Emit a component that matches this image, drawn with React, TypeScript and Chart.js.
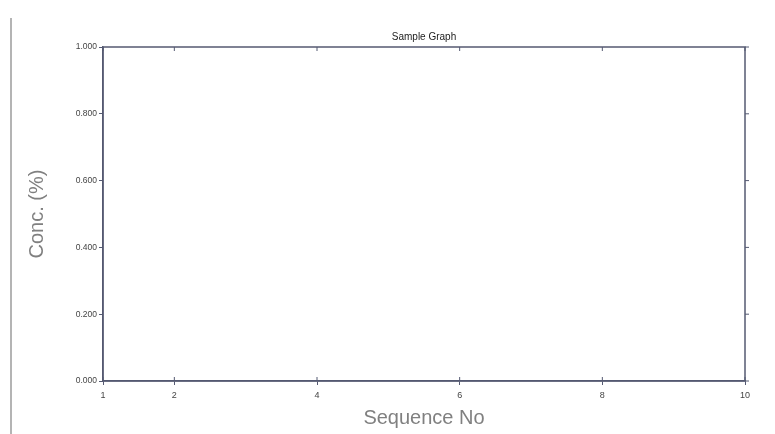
import React, { useEffect, useRef } from "react";
import { Chart, registerables } from "chart.js";

Chart.register(...registerables);

const chartTitle = "Sample Graph";
const xAxisTitle = "Sequence No";
const yAxisTitle = "Conc. (%)";
const xTickValues = [1, 2, 4, 6, 8, 10];
const yTickValues = [0, 0.2, 0.4, 0.6, 0.8, 1.0];
const seqValues: number[] = [];
const concValues: number[] = [];

const AXIS_COLOR = "#555a72";
const FONT = "'Liberation Sans', Arial, sans-serif";

const framePlugin = {
  id: "frame",
  beforeDraw(chart: any) {
    const ctx = chart.ctx;
    ctx.save();
    ctx.fillStyle = "#ffffff";
    ctx.fillRect(0, 0, chart.width, chart.height);
    ctx.strokeStyle = "#b4b4b4";
    ctx.lineWidth = 2;
    ctx.beginPath();
    ctx.moveTo(11, 18);
    ctx.lineTo(11, chart.height);
    ctx.stroke();
    ctx.restore();
  },
  afterDraw(chart: any) {
    const ctx = chart.ctx;
    const { left, right, top, bottom } = chart.chartArea;
    const xs = chart.scales.x;
    const ys = chart.scales.y;
    ctx.save();
    ctx.strokeStyle = AXIS_COLOR;
    ctx.lineWidth = 1.5;
    ctx.strokeRect(left, top, right - left, bottom - top);
    ctx.lineWidth = 1;
    ctx.beginPath();
    xTickValues.forEach((v) => {
      const px = xs.getPixelForValue(v);
      ctx.moveTo(px, top);
      ctx.lineTo(px, top + 4);
      ctx.moveTo(px, bottom);
      ctx.lineTo(px, bottom - 4);
    });
    yTickValues.forEach((v) => {
      const py = ys.getPixelForValue(v);
      ctx.moveTo(right, py);
      ctx.lineTo(right + 4, py);
    });
    ctx.stroke();
    ctx.restore();
  },
};

export default function App() {
  const ref = useRef<HTMLCanvasElement | null>(null);
  useEffect(() => {
    if (!ref.current) return;
    const chart = new Chart(ref.current, {
      type: "scatter",
      data: {
        datasets: [
          {
            label: "Conc.",
            data: seqValues.map((x, i) => ({ x, y: concValues[i] })),
            pointRadius: 3,
            backgroundColor: "#3355aa",
            borderColor: "#3355aa",
          },
        ],
      },
      options: {
        animation: false,
        responsive: true,
        maintainAspectRatio: false,
        layout: { padding: { left: 0, right: 30, top: 0, bottom: 0 } },
        plugins: {
          legend: { display: false },
          tooltip: { enabled: false },
          title: {
            display: true,
            fullSize: false,
            text: chartTitle,
            color: "#222",
            font: { family: FONT, size: 10, weight: "normal" },
            padding: { top: 31, bottom: 4 },
          },
        },
        scales: {
          x: {
            type: "linear",
            min: 1,
            max: 10,
            afterBuildTicks: (s: any) => {
              s.ticks = xTickValues.map((v) => ({ value: v }));
            },
            afterFit: (s: any) => {
              s.height = 53;
            },
            grid: {
              display: true,
              drawOnChartArea: false,
              drawTicks: true,
              tickLength: 4,
              color: AXIS_COLOR,
            },
            border: { display: true, color: AXIS_COLOR, width: 1.5 },
            ticks: {
              color: "#444",
              font: { family: FONT, size: 9 },
              padding: 5,
              maxRotation: 0,
              autoSkip: false,
              callback: (v: any) => String(v),
            },
            title: {
              display: true,
              text: xAxisTitle,
              color: "#808080",
              font: { family: FONT, size: 20 },
              padding: { top: 0, bottom: 4 },
            },
          },
          y: {
            type: "linear",
            min: 0,
            max: 1,
            afterBuildTicks: (s: any) => {
              s.ticks = yTickValues.map((v) => ({ value: v }));
            },
            afterFit: (s: any) => {
              s.width = 103;
            },
            grid: {
              display: true,
              drawOnChartArea: false,
              drawTicks: true,
              tickLength: 4,
              color: AXIS_COLOR,
            },
            border: { display: true, color: AXIS_COLOR, width: 1.5 },
            ticks: {
              color: "#444",
              font: { family: FONT, size: 8.5 },
              padding: 2,
              autoSkip: false,
              callback: (v: any) => Number(v).toFixed(3),
            },
            title: {
              display: true,
              text: yAxisTitle,
              color: "#808080",
              font: { family: FONT, size: 20 },
              padding: { top: 25, bottom: 0 },
            },
          },
        },
      },
      plugins: [framePlugin],
    });
    return () => chart.destroy();
  }, []);
  return (
    <div style={{ position: "fixed", left: 0, top: 0, width: 775, height: 434, background: "#fff" }}>
      <canvas ref={ref} />
    </div>
  );
}
